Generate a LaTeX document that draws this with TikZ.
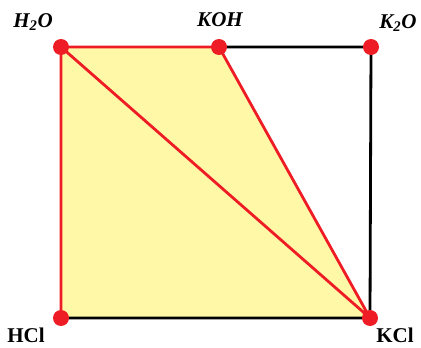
\documentclass[tikz,border=0pt]{standalone}
\usepackage{fontspec}
\setmainfont{Liberation Serif}
\usepackage{xcolor}
\usetikzlibrary{positioning}
\definecolor{ptred}{HTML}{EE1C25}
\definecolor{ptfill}{HTML}{FFF8A6}
\tikzset{
  pt/.style={circle, fill=ptred, inner sep=0pt, minimum size=16pt},
  lab/.style={font=\fontsize{21}{23}\selectfont\bfseries\itshape, inner sep=0pt},
  labup/.style={font=\fontsize{21}{23}\selectfont\bfseries, inner sep=0pt},
  edge/.style={line width=2.8pt, draw=black},
  redge/.style={line width=2.8pt, draw=ptred, line join=round},
}
\begin{document}
\begin{tikzpicture}[x=1pt, y=-1pt]
  \useasboundingbox (0,0) rectangle (421,348);
  \coordinate (w) at (61,47);
  \coordinate (koh) at (219,47);
  \coordinate (k2o) at (371,47);
  \coordinate (hcl) at (61,318);
  \coordinate (kcl) at (370,318);
  % region and frame
  \fill[ptfill] (w) -- (koh) -- (kcl) -- (hcl) -- cycle;
  \draw[edge] (koh) -- (k2o) -- (kcl) -- (hcl);
  \draw[redge] (hcl) -- (w) -- (koh) -- (kcl) -- (w);
  % vertices
  \node[pt] (pw) at (w) {};
  \node[pt] (pkoh) at (koh) {};
  \node[pt] (pk2o) at (k2o) {};
  \node[pt] (phcl) at (hcl) {};
  \node[pt] (pkcl) at (kcl) {};
  \node[lab] (lw) at (33,22) {H\textsubscript{2}O};
  \node[lab] (lkoh) at (220,20) {KOH};
  \node[lab] (lk2o) at (398,23) {K\textsubscript{2}O};
  \node[labup] (lhcl) at (26,335) {HCl};
  \node[labup] (lkcl) at (395,335) {KCl};
\end{tikzpicture}
\end{document}
